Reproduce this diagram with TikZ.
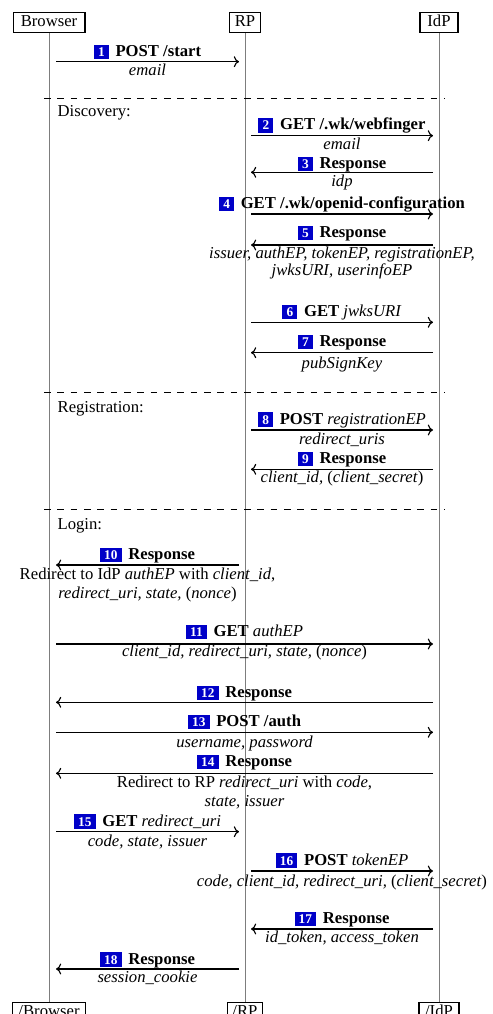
\documentclass[tikz,border=0pt]{standalone}
\usepackage{fontspec}
\setmainfont{Liberation Serif}
\usetikzlibrary{arrows.meta}
\definecolor{badgeblue}{RGB}{0,0,200}
\definecolor{lifegray}{RGB}{125,125,125}
\newcommand\badge[1]{{\setlength{\fboxsep}{0pt}\colorbox{badgeblue}{\hspace{2.5pt}\rule[-1.6pt]{0pt}{8.6pt}\textcolor{white}{\footnotesize\bfseries #1}\hspace{2.5pt}}}\hspace{4pt}}
\tikzset{
  actor/.style={draw, line width=0.8pt, inner xsep=3pt, inner ysep=0pt, minimum height=12pt, text height=7pt, text depth=2pt},
  life/.style={draw=lifegray, line width=0.6pt},
  msg/.style={->, line width=0.7pt},
  lbl/.style={anchor=base, inner sep=0pt},
  sub/.style={anchor=base, inner sep=0pt, font=\itshape},
  sect/.style={anchor=base west, inner sep=0pt},
  sepline/.style={line width=0.8pt, dash pattern=on 4pt off 4pt}
}
\begin{document}
\begin{tikzpicture}[x=0.6pt,y=-0.6pt]
\useasboundingbox (0,0) rectangle (492,1014);
% actors
\node[actor, minimum width=43pt] (bt) at (49,22.3) {Browser};
\node[actor, minimum width=18.6pt] (rt) at (245,22.3) {RP};
\node[actor, minimum width=22.7pt] (it) at (439,22.3) {IdP};
\node[actor, minimum width=44pt] (bb) at (49,1012.7) {/Browser};
\node[actor, minimum width=21pt] (rb) at (245,1012.7) {/RP};
\node[actor, minimum width=24pt] (ib) at (439,1012.7) {/IdP};
\draw[life] (bt.south) -- (bb.north);
\draw[life] (rt.south) -- (rb.north);
\draw[life] (it.south) -- (ib.north);
% separators
\coordinate (d1a) at (44,98.3); \coordinate (d1b) at (445,98.3);
\coordinate (d2a) at (44,392.7); \coordinate (d2b) at (445,392.7);
\coordinate (d3a) at (44,509.3); \coordinate (d3b) at (445,509.3);
\draw[sepline] (d1a) -- (d1b);
\draw[sepline] (d2a) -- (d2b);
\draw[sepline] (d3a) -- (d3b);
\node[sect] (s1) at (57.3,117) {Discovery:};
\node[sect] (s2) at (57.3,412.3) {Registration:};
\node[sect] (s3) at (57.3,529) {Login:};
% message 1
\coordinate (m1a) at (56,61.7); \coordinate (m1b) at (239,61.7);
\draw[msg] (m1a) -- (m1b);
\node[lbl] (l1) at (147.5,56.7) {\badge{1}\textbf{POST /start}};
\node[sub] (t1) at (147.5,76) {email};
% message 2
\coordinate (m2a) at (251,135.7); \coordinate (m2b) at (433,135.7);
\draw[msg] (m2a) -- (m2b);
\node[lbl] (l2) at (342,130) {\badge{2}\textbf{GET /.wk/webfinger}};
\node[sub] (t2) at (342,150) {email};
% message 3
\coordinate (m3a) at (433,172.3); \coordinate (m3b) at (251,172.3);
\draw[msg] (m3a) -- (m3b);
\node[lbl] (l3) at (342,168.3) {\badge{3}\textbf{Response}};
\node[sub] (t3) at (342,186.7) {idp};
% message 4
\coordinate (m4a) at (251,214); \coordinate (m4b) at (433,214);
\draw[msg] (m4a) -- (m4b);
\node[lbl] (l4) at (342,208.3) {\badge{4}\textbf{GET /.wk/openid-configuration}};
% message 5
\coordinate (m5a) at (433,245); \coordinate (m5b) at (251,245);
\draw[msg] (m5a) -- (m5b);
\node[lbl] (l5) at (342,237.3) {\badge{5}\textbf{Response}};
\node[sub] (t5a) at (342,258.3) {issuer, authEP, tokenEP, registrationEP,};
\node[sub] (t5b) at (342,276) {jwksURI, userinfoEP};
% message 6
\coordinate (m6a) at (251,322.3); \coordinate (m6b) at (433,322.3);
\draw[msg] (m6a) -- (m6b);
\node[lbl] (l6) at (342,316.7) {\badge{6}\textbf{GET} \textit{jwksURI}};
% message 7
\coordinate (m7a) at (433,352.7); \coordinate (m7b) at (251,352.7);
\draw[msg] (m7a) -- (m7b);
\node[lbl] (l7) at (342,346.7) {\badge{7}\textbf{Response}};
\node[sub] (t7) at (342,368.3) {pubSignKey};
% message 8
\coordinate (m8a) at (251,430); \coordinate (m8b) at (433,430);
\draw[msg] (m8a) -- (m8b);
\node[lbl] (l8) at (342,424) {\badge{8}\textbf{POST} \textit{registrationEP}};
\node[sub] (t8) at (342,444) {redirect\_uris};
% message 9
\coordinate (m9a) at (433,469.3); \coordinate (m9b) at (251,469.3);
\draw[msg] (m9a) -- (m9b);
\node[lbl] (l9) at (342,463.5) {\badge{9}\textbf{Response}};
\node[sub] (t9) at (342,482.7) {client\_id, \textup{(}client\_secret\textup{)}};
% message 10
\coordinate (m10a) at (239,565); \coordinate (m10b) at (56,565);
\draw[msg] (m10a) -- (m10b);
\node[lbl] (l10) at (147.5,559.3) {\badge{10}\textbf{Response}};
\node[lbl] (t10a) at (147.5,579.3) {Redirect to IdP \textit{authEP} with \textit{client\_id},};
\node[sub] (t10b) at (147.5,598.3) {redirect\_uri, state, \textup{(}nonce\textup{)}};
% message 11
\coordinate (m11a) at (56,644); \coordinate (m11b) at (433,644);
\draw[msg] (m11a) -- (m11b);
\node[lbl] (l11) at (244.5,636.7) {\badge{11}\textbf{GET} \textit{authEP}};
\node[sub] (t11) at (244.5,656.7) {client\_id, redirect\_uri, state, \textup{(}nonce\textup{)}};
% message 12
\coordinate (m12a) at (433,702.3); \coordinate (m12b) at (56,702.3);
\draw[msg] (m12a) -- (m12b);
\node[lbl] (l12) at (244.5,697.3) {\badge{12}\textbf{Response}};
% message 13
\coordinate (m13a) at (56,732.3); \coordinate (m13b) at (433,732.3);
\draw[msg] (m13a) -- (m13b);
\node[lbl] (l13) at (244.5,726.7) {\badge{13}\textbf{POST /auth}};
\node[sub] (t13) at (244.5,747.3) {username, password};
% message 14
\coordinate (m14a) at (433,773.3); \coordinate (m14b) at (56,773.3);
\draw[msg] (m14a) -- (m14b);
\node[lbl] (l14) at (244.5,766.7) {\badge{14}\textbf{Response}};
\node[lbl] (t14a) at (244.5,787.3) {Redirect to RP \textit{redirect\_uri} with \textit{code},};
\node[sub] (t14b) at (244.5,806.7) {state, issuer};
% message 15
\coordinate (m15a) at (56,831.7); \coordinate (m15b) at (239,831.7);
\draw[msg] (m15a) -- (m15b);
\node[lbl] (l15) at (147.5,826) {\badge{15}\textbf{GET} \textit{redirect\_uri}};
\node[sub] (t15) at (147.5,846.7) {code, state, issuer};
% message 16
\coordinate (m16a) at (251,871); \coordinate (m16b) at (433,871);
\draw[msg] (m16a) -- (m16b);
\node[lbl] (l16) at (342,865) {\badge{16}\textbf{POST} \textit{tokenEP}};
\node[sub] (t16) at (342,886) {code, client\_id, redirect\_uri, \textup{(}client\_secret\textup{)}};
% message 17
\coordinate (m17a) at (433,929); \coordinate (m17b) at (251,929);
\draw[msg] (m17a) -- (m17b);
\node[lbl] (l17) at (342,923.3) {\badge{17}\textbf{Response}};
\node[sub] (t17) at (342,942.7) {id\_token, access\_token};
% message 18
\coordinate (m18a) at (239,969); \coordinate (m18b) at (56,969);
\draw[msg] (m18a) -- (m18b);
\node[lbl] (l18) at (147.5,964) {\badge{18}\textbf{Response}};
\node[sub] (t18) at (147.5,982.7) {session\_cookie};
\end{tikzpicture}
\end{document}
